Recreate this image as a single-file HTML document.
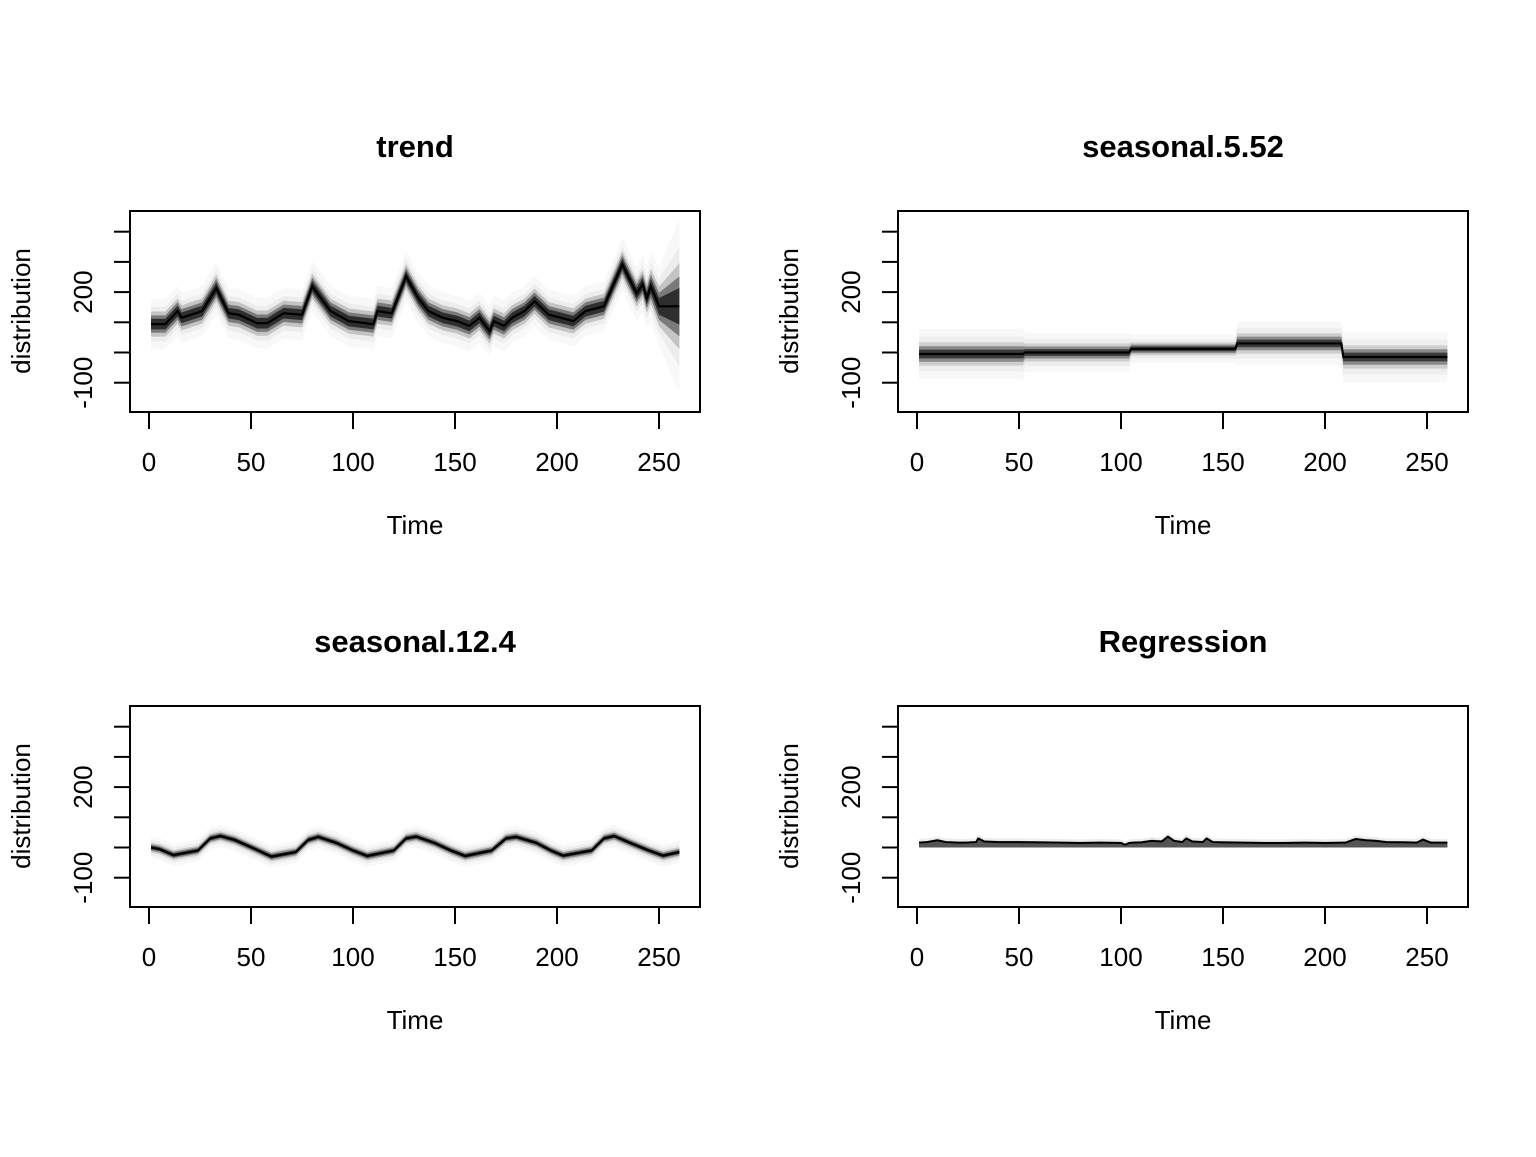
<!DOCTYPE html>
<html><head><meta charset="utf-8"><style>
body{margin:0;background:#fff}
svg text{font-family:"Liberation Sans",Arial,sans-serif;fill:#000}
</style></head><body>
<svg id="svg" width="1536" height="1152" viewBox="0 0 1536 1152" xmlns="http://www.w3.org/2000/svg"></svg>
<script>
// ---- data ----
const trendT = [1,8,14,16,26,33,39,44,53,58,66,75,80,89,98,110,112,119,126,132,137,144,151,157,162,167,169,174,178,184,189,196,208,214,223,232,239,242,244,246,250,260];
const trendV = [94,94,137,115,137,213,130,125,97,97,130,125,219,137,104,94,137,130,252,180,137,115,104,88,115,71,104,88,115,137,170,125,104,137,153,292,196,226,180,219,153,153];
const trendSd = [32,32,32,32,32,34,32,32,32,32,32,32,32,32,32,32,32,32,32,32,32,32,32,32,32,32,32,32,32,32,32,32,32,32,32,34,34,36,38,44,50,110];
const s552T = [1,52,53,104,105,156,157,208,209,260];
const s552V = [-5,-5,0,0,12,12,30,30,-15,-15];
const s552Sd = [32,32,25,25,18,18,28,28,32,32];
const s124T = [1,5,12,24,30,35,42,52,60,72,78,83,92,100,107,120,126,131,140,148,155,168,175,180,190,197,203,217,223,228,236,245,252,260];
const s124V = [0,-5,-25,-10,30,38,25,-5,-30,-15,25,35,15,-10,-28,-10,30,36,15,-10,-28,-10,30,35,15,-10,-27,-10,30,38,15,-10,-27,-15];
const regT = [1,5,10,14,20,24,29,30,33,40,50,60,70,80,90,100,102,104,106,110,115,120,123,126,130,132,135,140,142,145,150,160,170,180,190,200,210,215,220,225,230,240,245,248,252,260];
const regV = [16,18,24,18,16,16,18,30,20,18,18,17,16,15,16,15,9,15,16,17,22,20,36,22,18,30,20,18,30,18,17,16,15,15,16,15,16,28,24,22,18,17,16,26,16,16];
const xTicks = [0,50,100,150,200,250];
const yTicks = [-100,0,100,200,300,400];
const yLabels = ["-100","","","200","",""];
const titles = ["trend","seasonal.5.52","seasonal.12.4","Regression"];

const NS="http://www.w3.org/2000/svg";
const svg=document.getElementById('svg');
function mk(tag,attrs,parent){const e=document.createElementNS(NS,tag);for(const k in attrs)e.setAttribute(k,attrs[k]);(parent||svg).appendChild(e);return e;}

const panels=[{x0:130,y0:211},{x0:898,y0:211},{x0:130,y0:706},{x0:898,y0:706}];
const W=570,H=201;
function sx(p,t){return p.x0+19+t*2.04;}
function sy(p,v){return p.y0+141.5-v*0.302;}

panels.forEach((p,i)=>{
  const g=mk('g',{});
  
  
  const t=mk('text',{x:p.x0+285,y:p.y0-54,'font-size':31,'font-weight':'bold','text-anchor':'middle'},g);
  t.textContent=titles[i];
  
  
  xTicks.forEach(v=>{
    const x=sx(p,v);
    const l=mk('line',{x1:x,x2:x,y1:p.y0+202,y2:p.y0+218,stroke:'#000','stroke-width':2},g);
    
    
    const tx=mk('text',{x:x,y:p.y0+260,'font-size':26,'text-anchor':'middle'},g);
    tx.textContent=v;
    
    
  });
  yTicks.forEach((v,j)=>{
    const y=sy(p,v);
    const l=mk('line',{x1:p.x0-16,x2:p.x0-1,y1:y,y2:y,stroke:'#000','stroke-width':2},g);
    
    
    if(yLabels[j]){
      const ty=mk('text',{x:0,y:0,'font-size':26,'text-anchor':'middle',transform:`translate(${p.x0-38},${y}) rotate(-90)`},g);
      ty.textContent=yLabels[j];
      
      
    }
  });
  const xl=mk('text',{x:p.x0+285,y:p.y0+323,'font-size':26,'text-anchor':'middle'},g);
  xl.textContent='Time';
  
  
  const yl=mk('text',{x:0,y:0,'font-size':26,'text-anchor':'middle',transform:`translate(${p.x0-100},${p.y0+100}) rotate(-90)`},g);
  yl.textContent='distribution';
  
  
  p.g=g;
});

const layers=[[2.6,'#f8f8f8'],[1.8,'#eeeeee'],[1.2,'#cfcfcf'],[0.8,'#8a8a8a'],[0.45,'#3a3a3a']];
const trendLayers=[[2.6,'#f8f8f8'],[1.8,'#ededed'],[1.3,'#c4c4c4'],[0.9,'#7a7a7a'],[0.55,'#2e2e2e']];
function band(p,T,V,S,name,L){
  (L||layers).forEach(([m,c])=>{
    let up=T.map((t,k)=>sx(p,t)+','+sy(p,V[k]+S[k]*m));
    let dn=T.map((t,k)=>sx(p,t)+','+sy(p,V[k]-S[k]*m)).reverse();
    const pg=mk('polygon',{points:up.concat(dn).join(' '),fill:c},p.g);
    
    
  });
  const pl=mk('polyline',{points:T.map((t,k)=>sx(p,t)+','+sy(p,V[k])).join(' '),fill:'none',stroke:'#000','stroke-width':2.2},p.g);
  
  
}
band(panels[0],trendT,trendV,trendSd,'trend',trendLayers);
band(panels[1],s552T,s552V,s552Sd,'seasonal-5-52');
band(panels[2],s124T,s124V,s124T.map(()=>14),'seasonal-12-4');
// regression
(function(){
  const p=panels[3];
  const up=regT.map((t,k)=>sx(p,t)+','+sy(p,regV[k]+12));
  const lo=regT.map(t=>sx(p,t)+','+sy(p,0)).reverse();
  const f1=mk('polygon',{points:up.concat(lo).join(' '),fill:'#ececec'},p.g);
  
  
  const up2=regT.map((t,k)=>sx(p,t)+','+sy(p,regV[k]+4));
  const f2=mk('polygon',{points:up2.concat(lo).join(' '),fill:'#b0b0b0'},p.g);
  
  
  const md=regT.map((t,k)=>sx(p,t)+','+sy(p,regV[k]));
  const f3=mk('polygon',{points:md.concat(lo).join(' '),fill:'#555'},p.g);
  
  
  const pl=mk('polyline',{points:md.join(' '),fill:'none',stroke:'#000','stroke-width':2},p.g);
  
  
})();
panels.forEach(p=>{
  const r=mk('rect',{x:p.x0,y:p.y0,width:W,height:H,fill:'none',stroke:'#000','stroke-width':2},p.g);
  
  
});
</script>
</body></html>
